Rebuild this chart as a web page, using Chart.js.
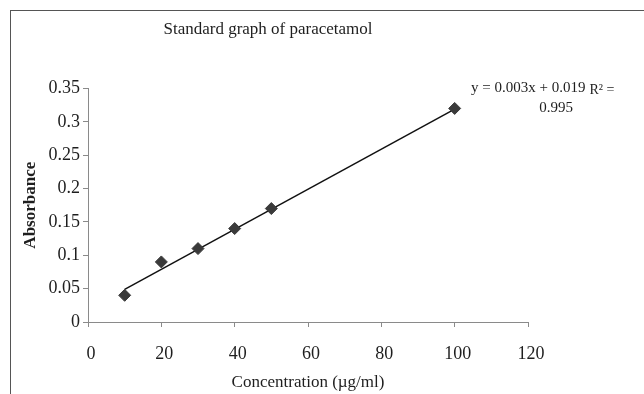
<!DOCTYPE html>
<html>
<head>
<meta charset="utf-8">
<script src="https://cdn.jsdelivr.net/npm/chart.js@4/dist/chart.umd.min.js"></script>
<style>
  html, body { margin: 0; padding: 0; background: #fff; }
  #wrap { position: relative; width: 644px; height: 394px; overflow: hidden; }
  #frame { position: absolute; left: 10px; top: 10px; width: 700px; height: 500px;
           border: 1px solid #555; box-sizing: border-box; pointer-events: none; }
  canvas { position: absolute; left: 0; top: 0; }
</style>
</head>
<body>
<div id="wrap">
  <canvas id="c" width="644" height="394"></canvas>
  <div id="frame"></div>
</div>
<script>
// Calibration data: concentration (µg/ml) vs absorbance
const concentration = [10, 20, 30, 40, 50, 100];
const absorbance = [0.04, 0.09, 0.11, 0.14, 0.17, 0.32];

// Linear fit reported on the graph
const slope = 0.003;
const intercept = 0.019;
const rSquared = 0.995;
const fitRange = [10, 100];

// Axis tick labels
const xTickLabels = ['0', '20', '40', '60', '80', '100', '120'];
const yTickLabels = ['0', '0.05', '0.1', '0.15', '0.2', '0.25', '0.3', '0.35'];

const serif = '"Liberation Serif", "Times New Roman", serif';
const ink = '#1e1e1e';
const axisGrey = '#8a8a8a';

const fitPoints = fitRange.map(x => ({ x: x, y: slope * x + intercept }));
const points = concentration.map((x, i) => ({ x: x, y: absorbance[i] }));

// Trendline equation and R² written beside the top of the line
const equationLabel = {
  id: 'equationLabel',
  afterDatasetsDraw(chart) {
    const ctx = chart.ctx;
    ctx.save();
    ctx.fillStyle = ink;
    ctx.textBaseline = 'middle';
    ctx.textAlign = 'left';
    ctx.font = '15px ' + serif;
    const eq = 'y = ' + slope.toFixed(3) + 'x + ' + intercept.toFixed(3);
    ctx.fillText(eq, 471, 88);
    const w = ctx.measureText(eq).width;
    ctx.font = '14px ' + serif;
    ctx.fillText('R\u00B2 =', 471 + w + 4, 90);
    ctx.textAlign = 'center';
    ctx.font = '15px ' + serif;
    ctx.fillText(rSquared.toFixed(3), 556, 108);
    ctx.restore();
  }
};

new Chart(document.getElementById('c'), {
  type: 'scatter',
  data: {
    datasets: [
      {
        label: 'Linear fit',
        data: fitPoints,
        showLine: true,
        borderColor: '#111',
        borderWidth: 1.5,
        pointRadius: 0,
        order: 2
      },
      {
        label: 'Absorbance',
        data: points,
        pointStyle: 'rectRot',
        pointRadius: 6,
        backgroundColor: '#3a3a3a',
        borderColor: '#3a3a3a',
        borderWidth: 1,
        order: 1
      }
    ]
  },
  options: {
    responsive: false,
    animation: false,
    layout: { padding: { left: 8, right: 116, top: 10, bottom: 1 } },
    plugins: {
      legend: { display: false },
      tooltip: { enabled: false },
      title: {
        display: true,
        text: 'Standard graph of paracetamol',
        color: ink,
        font: { family: serif, size: 17, weight: 'normal' },
        padding: { top: 9, bottom: 49 }
      }
    },
    scales: {
      x: {
        type: 'linear',
        min: 0,
        max: 120,
        afterFit(scale) { scale.height = 71; },
        ticks: {
          stepSize: 20,
          color: ink,
          font: { family: serif, size: 18 },
          padding: 16,
          labelOffset: 3,
          maxRotation: 0,
          callback: (v, i) => xTickLabels[i]
        },
        grid: { drawOnChartArea: false, tickLength: 5, color: axisGrey },
        border: { color: axisGrey, width: 1 },
        title: {
          display: true,
          text: 'Concentration (\u00B5g/ml)',
          color: ink,
          font: { family: serif, size: 17 },
          padding: { top: 0, bottom: 0 }
        }
      },
      y: {
        type: 'linear',
        min: 0,
        max: 0.35,
        afterFit(scale) { scale.width = 80; },
        ticks: {
          stepSize: 0.05,
          color: ink,
          font: { family: serif, size: 18 },
          padding: 3,
          callback: (v, i) => yTickLabels[i]
        },
        grid: { drawOnChartArea: false, tickLength: 5, color: axisGrey },
        border: { color: axisGrey, width: 1 },
        title: {
          display: true,
          text: 'Absorbance',
          color: ink,
          font: { family: serif, size: 17, weight: 'bold' },
          padding: { top: 12, bottom: 0 }
        }
      }
    }
  },
  plugins: [equationLabel]
});
</script>
</body>
</html>
